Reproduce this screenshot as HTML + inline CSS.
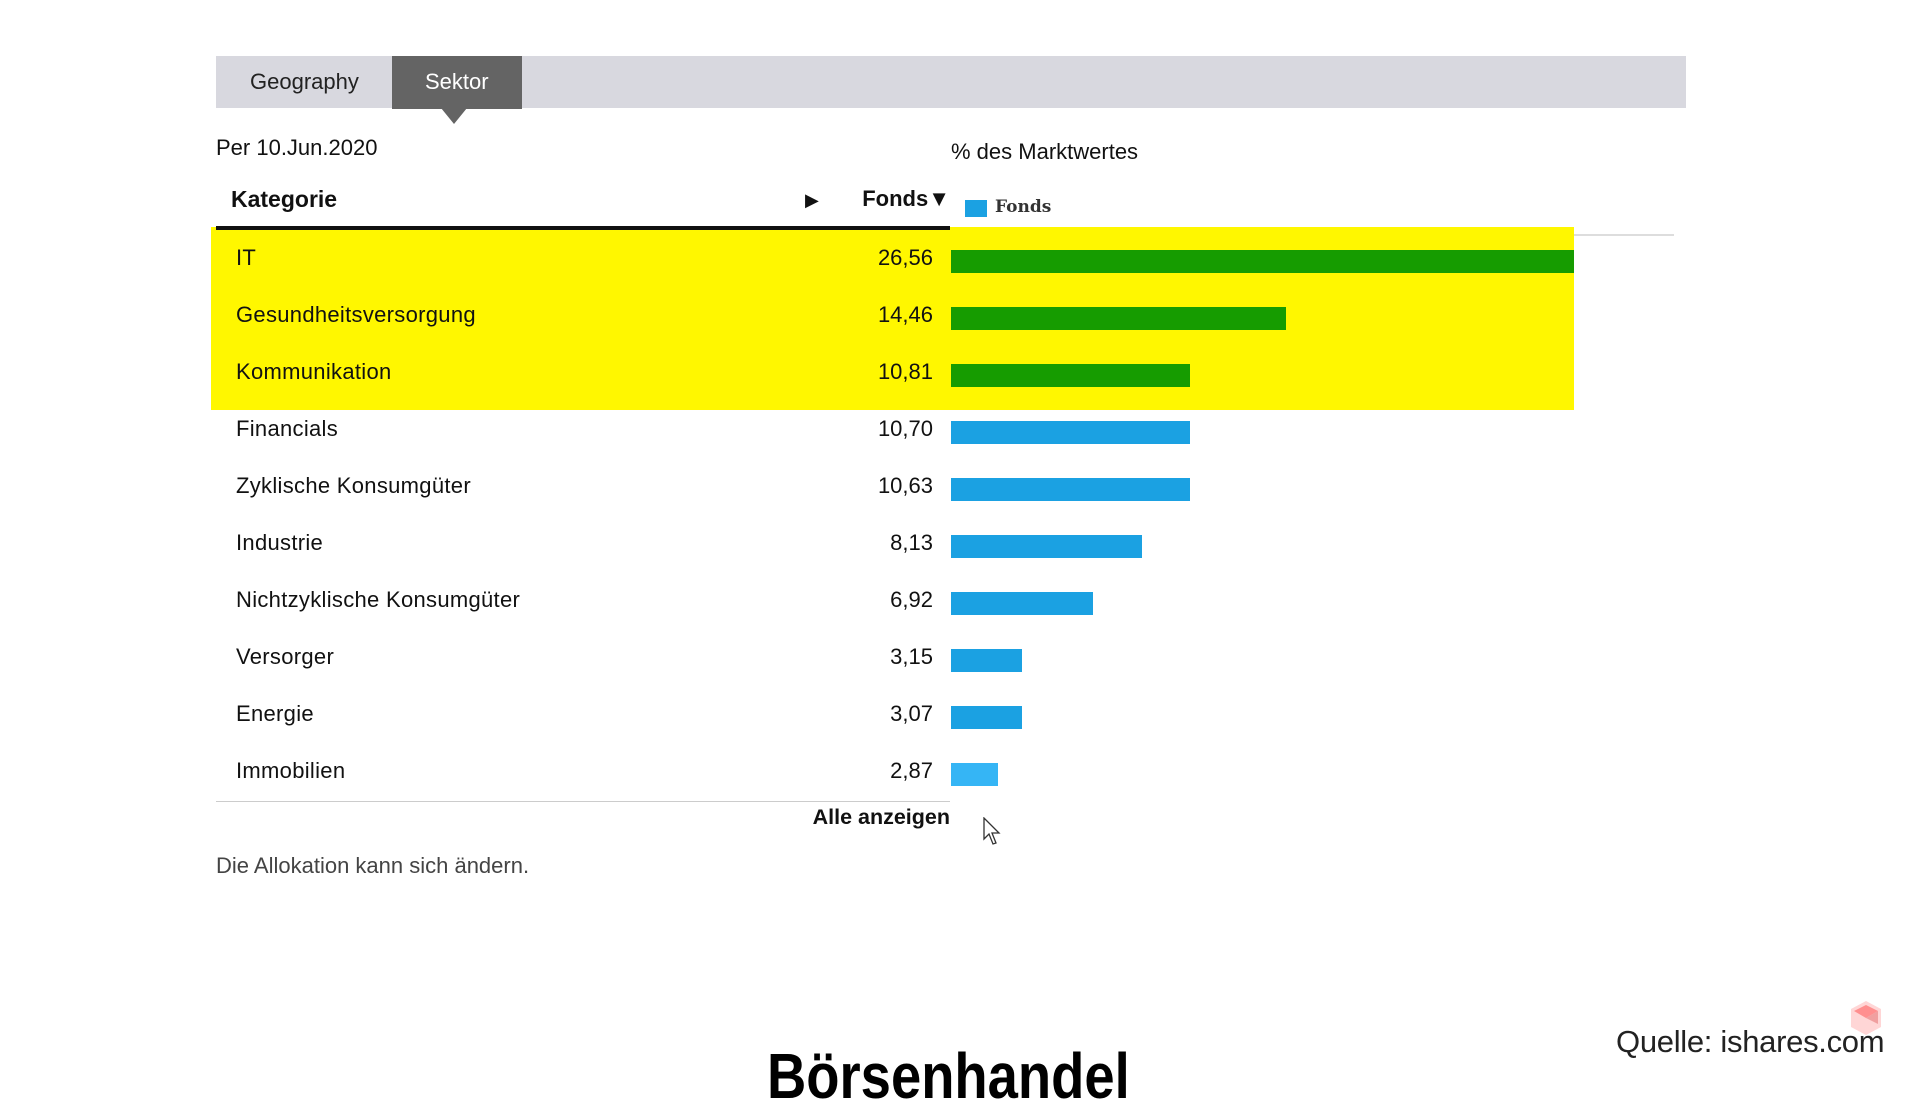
<!DOCTYPE html>
<html><head><meta charset="utf-8"><style>
body{margin:0;width:1920px;height:1080px;background:#fff;position:relative;overflow:hidden;font-family:"Liberation Sans",sans-serif;color:#111}
.a{position:absolute;white-space:nowrap}
.lab{position:absolute;left:236px;font-size:22px;line-height:26px;letter-spacing:0.3px}
.val{position:absolute;right:987px;font-size:22px;line-height:26px;text-align:right}
.bar{position:absolute;left:951px;height:23px;background:#1ba1e2}
.g{background:#169c00}
</style></head><body>
<div class="a" style="left:216px;top:56px;width:1470px;height:52px;background:#d8d8df"></div>
<div class="a" style="left:250px;top:69px;font-size:22px;color:#222">Geography</div>
<div class="a" style="left:392px;top:56px;width:130px;height:53px;background:#646464"></div>
<div class="a" style="left:441px;top:108px;width:0;height:0;border-left:13px solid transparent;border-right:13px solid transparent;border-top:16px solid #646464"></div>
<div class="a" style="left:425px;top:69px;font-size:22px;color:#fff">Sektor</div>
<div class="a" style="left:216px;top:135px;font-size:22px">Per 10.Jun.2020</div>
<div class="a" style="left:951px;top:139px;font-size:22px">% des Marktwertes</div>
<div class="a" style="left:231px;top:186px;font-size:23px;font-weight:bold">Kategorie</div>
<div class="a" style="left:805px;top:190px;font-size:18px">▶</div>
<div class="a" style="left:850px;top:186px;font-size:22px;font-weight:bold;width:100px;text-align:right">Fonds▼</div>
<div class="a" style="left:965px;top:200px;width:22px;height:17px;background:#1ba1e2"></div>
<div class="a" style="left:995px;top:197px;font-size:17px;font-weight:bold;color:#333;font-family:'DejaVu Serif',serif">Fonds</div>
<div class="a" style="left:951px;top:234px;width:723px;height:2px;background:#ddd"></div>
<div class="a" style="left:211px;top:227px;width:1363px;height:183px;background:#fff700"></div>
<div class="a" style="left:216px;top:226px;width:734px;height:4px;background:#111"></div>

<div class="lab" style="top:245px">IT</div><div class="val" style="top:245px">26,56</div><div class="bar g" style="top:250px;width:623px"></div>
<div class="lab" style="top:302px">Gesundheitsversorgung</div><div class="val" style="top:302px">14,46</div><div class="bar g" style="top:307px;width:335px"></div>
<div class="lab" style="top:359px">Kommunikation</div><div class="val" style="top:359px">10,81</div><div class="bar g" style="top:364px;width:239px"></div>
<div class="lab" style="top:416px">Financials</div><div class="val" style="top:416px">10,70</div><div class="bar" style="top:421px;width:239px"></div>
<div class="lab" style="top:473px">Zyklische Konsumgüter</div><div class="val" style="top:473px">10,63</div><div class="bar" style="top:478px;width:239px"></div>
<div class="lab" style="top:530px">Industrie</div><div class="val" style="top:530px">8,13</div><div class="bar" style="top:535px;width:191px"></div>
<div class="lab" style="top:587px">Nichtzyklische Konsumgüter</div><div class="val" style="top:587px">6,92</div><div class="bar" style="top:592px;width:142px"></div>
<div class="lab" style="top:644px">Versorger</div><div class="val" style="top:644px">3,15</div><div class="bar" style="top:649px;width:71px"></div>
<div class="lab" style="top:701px">Energie</div><div class="val" style="top:701px">3,07</div><div class="bar" style="top:706px;width:71px"></div>
<div class="lab" style="top:758px">Immobilien</div><div class="val" style="top:758px">2,87</div><div class="bar" style="top:763px;width:47px;background:#35b5f5"></div>

<div class="a" style="left:216px;top:801px;width:734px;height:1px;background:#ccc"></div>
<div class="a" style="left:750px;top:805px;width:200px;text-align:right;font-size:21.5px;font-weight:bold">Alle anzeigen</div>
<svg class="a" style="left:983px;top:817px" width="20" height="30" viewBox="0 0 20 30"><path d="M1 1 L1 22 L6 17 L10 27 L13 26 L9 16 L16 16 Z" fill="#fff" stroke="#333" stroke-width="1.3"/></svg>
<div class="a" style="left:216px;top:853px;font-size:22px;color:#444">Die Allokation kann sich ändern.</div>
<div class="a" style="left:767px;top:1040px;font-size:64px;font-weight:bold;color:#000;transform:scaleX(0.85);transform-origin:left top;line-height:72px">Börsenhandel</div>
<div class="a" style="left:1616px;top:1024px;font-size:31px;color:#222;letter-spacing:-0.3px">Quelle: ishares.com</div>
<svg class="a" style="left:1850px;top:1000px" width="32" height="36" viewBox="0 0 32 36"><polygon points="16,1 31,9 31,27 16,35 1,27 1,9" fill="#ffd6d6"/><polygon points="16,5 28,11 16,18 4,11" fill="#ff8f8f"/><polygon points="16,18 28,11 28,24" fill="#f0a0a0"/></svg>
</body></html>
